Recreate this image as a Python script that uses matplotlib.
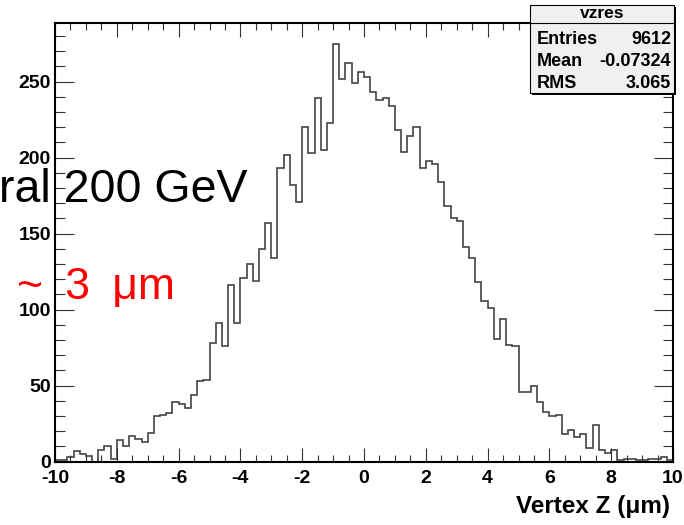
import numpy as np
import matplotlib
matplotlib.use("Agg")
import matplotlib.pyplot as plt
from matplotlib.patches import Rectangle
from matplotlib.lines import Line2D

plt.rcParams['font.family'] = ['Liberation Sans', 'DejaVu Sans']
plt.rcParams['axes.unicode_minus'] = False

# vzres histogram: 100 bins over [-10, 10] um
x_lo, x_hi, n_bins = -10.0, 10.0, 100
counts = [
    1, 1, 3, 7, 5, 4, 0, 8, 10, 2,
    14, 10, 17, 15, 13, 19, 30, 31, 32, 39,
    38, 35, 44, 53, 54, 78, 91, 76, 116, 91,
    121, 130, 119, 140, 157, 134, 193, 202, 182, 171,
    220, 203, 239, 205, 223, 275, 252, 262, 249, 256,
    253, 243, 238, 239, 234, 218, 204, 214, 220, 193,
    198, 196, 184, 168, 160, 158, 141, 134, 118, 106,
    101, 81, 94, 77, 76, 46, 46, 50, 39, 33,
    30, 31, 18, 21, 16, 18, 9, 24, 8, 6,
    8, 1, 2, 2, 1, 1, 2, 2, 3, 1,
]
stat_name = "vzres"
stat_labels = ["Entries", "Mean", "RMS"]
stat_values = ["9612", "-0.07324", "3.065"]
xlabel = "Vertex Z (\u03bcm)"

W, H = 684, 525
fig = plt.figure(figsize=(W / 100, H / 100), dpi=100)
ax = fig.add_axes([55 / W, 1 - 461.7 / H, 618 / W, 439 / H])

edges = np.linspace(x_lo, x_hi, n_bins + 1)
ax.stairs(counts, edges, baseline=None, color="#444444", linewidth=1.2)

ax.set_xlim(x_lo, x_hi)
ax.set_ylim(0, max(counts) * 1.05)
ax.set_xticks(np.arange(-10, 11, 2))
ax.set_xticks(np.arange(-10, 10.01, 0.5), minor=True)
ax.set_yticks(np.arange(0, 251, 50))
ax.set_yticks(np.arange(0, 281, 10), minor=True)

for s in ax.spines.values():
    s.set_linewidth(1.5)
ax.tick_params(which="both", direction="in", top=True, right=True,
               color="#333333", width=0.8)
ax.tick_params(axis="x", which="major", length=10, pad=6)
ax.tick_params(axis="x", which="minor", length=5)
ax.tick_params(axis="y", which="major", length=14, pad=3)
ax.tick_params(axis="y", which="minor", length=7)
for lab in ax.get_xticklabels() + ax.get_yticklabels():
    lab.set_fontweight("bold")
    lab.set_fontsize(14)

fig.text(670 / W, 1 - 507 / H, xlabel, ha="right", va="center",
         fontsize=17.5, fontweight="bold")

# stats box
bx0, bx1, by0, by1 = 530, 674, 5, 93
fig.patches.append(Rectangle((bx0 / W + 2 / W, 1 - (by1 + 2) / H),
                             (bx1 - bx0) / W, (by1 - by0) / H,
                             transform=fig.transFigure, facecolor="black",
                             edgecolor="none", zorder=5))
fig.patches.append(Rectangle((bx0 / W, 1 - by1 / H), (bx1 - bx0) / W,
                             (by1 - by0) / H, transform=fig.transFigure,
                             facecolor="#f0f0f0", edgecolor="black",
                             linewidth=0.8, zorder=6))
fig.lines.append(Line2D([bx0 / W, bx1 / W], [1 - 22.7 / H, 1 - 22.7 / H],
                        transform=fig.transFigure, color="black",
                        linewidth=0.8, zorder=7))
fig.text((bx0 + bx1) / 2 / W, 1 - 14 / H, stat_name, ha="center",
         va="center", fontsize=12.5, fontweight="bold", zorder=8)
for i, (lab, val) in enumerate(zip(stat_labels, stat_values)):
    y = 1 - (40 + 22 * i) / H
    fig.text(537 / W, y, lab, ha="left", va="center", fontsize=13,
             fontweight="bold", zorder=8)
    fig.text(671 / W, y, val, ha="right", va="center", fontsize=13,
             fontweight="bold", zorder=8)

# overlay annotations
fig.text(-1 / W, 1 - 201.7 / H, "ral 200 GeV", ha="left", va="baseline",
         fontsize=33.5, color="black")
fig.text(17 / W, 1 - 299 / H, "~\u20023\u2002\u03bcm", ha="left",
         va="baseline", fontsize=32, color="red")

fig.savefig("out.png", dpi=100)
